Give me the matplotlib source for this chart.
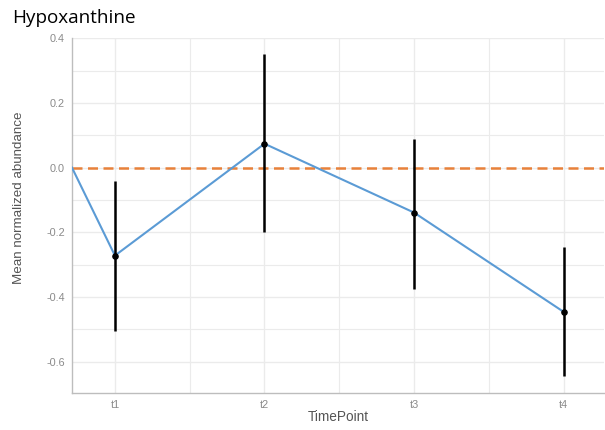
import matplotlib
matplotlib.use("Agg")
import matplotlib.pyplot as plt
import numpy as np
from matplotlib.ticker import MultipleLocator, FixedLocator

# data
timepoints = ["t1", "t2", "t3", "t4"]
mean_abund = [-0.272, 0.074, -0.139, -0.446]
err_low = [-0.505, -0.198, -0.375, -0.644]
err_high = [-0.040, 0.353, 0.090, -0.245]
# the trace starts at the left panel edge, at zero
start_x = 0.713
start_y = 0.0
baseline = 0.0

plt.rcParams["font.family"] = ["Liberation Sans", "DejaVu Sans"]

x = np.arange(1, len(timepoints) + 1)
mean_abund = np.array(mean_abund)
yerr = [mean_abund - np.array(err_low), np.array(err_high) - mean_abund]

fig = plt.figure(figsize=(6.05, 4.3), dpi=100)
ax = fig.add_axes([72 / 605, 37 / 430, 532 / 605, 355 / 430])

grid_col = "#ebebeb"
ax.set_xlim(start_x, 4.27)
ax.set_ylim(-0.697, 0.401)
ax.yaxis.set_major_locator(MultipleLocator(0.2))
ax.yaxis.set_minor_locator(MultipleLocator(0.1))
ax.xaxis.set_major_locator(FixedLocator(x))
ax.xaxis.set_minor_locator(FixedLocator([1.5, 2.5, 3.5]))
ax.grid(which="major", color=grid_col, lw=1.0, zorder=0)
ax.grid(which="minor", color=grid_col, lw=0.8, zorder=0)

ax.axhline(baseline, color="#e8813a", lw=1.8, ls=(0, (4, 2.2)), zorder=2)

ax.plot(np.r_[start_x, x], np.r_[start_y, mean_abund], color="#5b9bd5", lw=1.5, zorder=3)
ax.errorbar(x, mean_abund, yerr=yerr, fmt="none", ecolor="black", elinewidth=1.8, capsize=0, zorder=4)
ax.scatter(x, mean_abund, s=14, color="black", zorder=5)

ax.set_xticks(x)
ax.set_xticklabels(timepoints)
ax.set_yticks([-0.6, -0.4, -0.2, 0.0, 0.2, 0.4])
ax.set_yticklabels(["-0.6", "-0.4", "-0.2", "0.0", "0.2", "0.4"])
ax.tick_params(which="both", length=0, labelsize=7.8, labelcolor="#8a8a8a", pad=5)

for side in ["top", "right"]:
    ax.spines[side].set_visible(False)
for side in ["left", "bottom"]:
    ax.spines[side].set_color("#bdbdbd")
    ax.spines[side].set_linewidth(1.0)

ax.set_xlabel("TimePoint", fontsize=9.8, color="#555555", labelpad=0)
ax.set_ylabel("Mean normalized abundance", fontsize=9.6, color="#555555")
ax.yaxis.set_label_coords(-0.088, 0.549)
fig.text(12 / 605, 1 - 18 / 430, "Hypoxanthine", fontsize=13.6, family="Open Sans",
         va="center", ha="left", color="black")

fig.savefig("out.png", dpi=100)
